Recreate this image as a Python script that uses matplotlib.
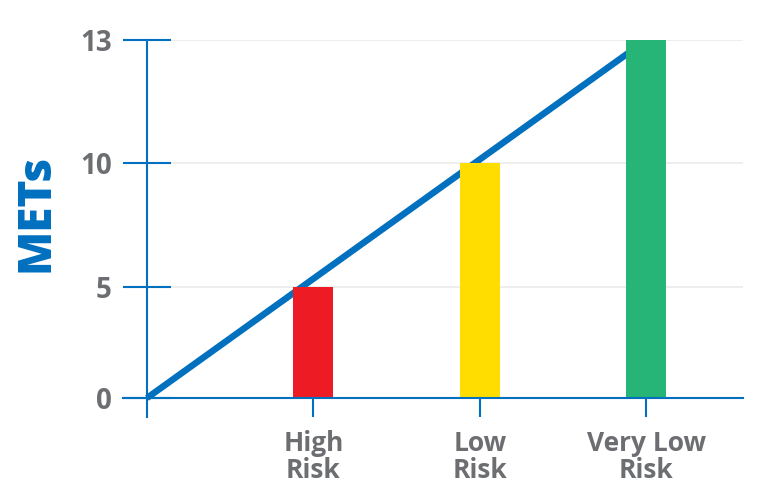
import numpy as np
import matplotlib
matplotlib.use("Agg")
import matplotlib.pyplot as plt
from matplotlib.scale import FuncScale

# data
categories = ["High\nRisk", "Low\nRisk", "Very Low\nRisk"]
mets = [5, 10, 13]
bar_colors = ["#ED1C24", "#FFDD00", "#26B576"]
yticks = [0, 5, 10, 13]

BLUE = "#0070BF"
GRAY = "#6D6E71"

# the y axis in the original is not linear: ticks sit at uneven spacing
SCALE_V = [-1, 0, 5, 10, 13]
SCALE_P = [-22.2, 0, 111, 235, 358]


def fwd(v):
    return np.interp(v, SCALE_V, SCALE_P)


def inv(p):
    return np.interp(p, SCALE_P, SCALE_V)


fig = plt.figure(figsize=(7.68, 4.93), dpi=100)
ax = fig.add_axes([123 / 768, (493 - 417) / 493, 620 / 768, 377 / 493])
ax.set_yscale(FuncScale(ax, (fwd, inv)))

x = np.arange(1, len(categories) + 1)

# trend line from origin to top of last bar, under the bars
ax.plot([0, x[-1]], [0, mets[-1]], color=BLUE, lw=4.7, solid_capstyle="butt",
        zorder=2)
ax.bar(x, mets, width=0.24, color=bar_colors, zorder=3)

ax.set_xlim(-0.144, 3.58)
ax.set_ylim(-0.856, 13)

for s in ["top", "right"]:
    ax.spines[s].set_visible(False)
ax.spines["left"].set_position(("data", 0))
ax.spines["bottom"].set_position(("data", 0))
for s in ["left", "bottom"]:
    ax.spines[s].set_color(BLUE)
    ax.spines[s].set_linewidth(1.5)
    ax.spines[s].set_zorder(4)

ax.set_yticks(yticks)
ax.set_yticklabels([str(t) for t in yticks])
ax.tick_params(axis="y", direction="inout", length=34.5, width=1.5,
               color=BLUE, pad=8)
ax.set_xticks(x)
ax.set_xticklabels(categories)
ax.tick_params(axis="x", direction="out", length=13.7, width=1.5,
               color=BLUE, pad=9)

for lab in ax.get_yticklabels():
    lab.set_fontfamily("Open Sans")
    lab.set_fontweight("bold")
    lab.set_fontsize(20)
    lab.set_color(GRAY)
for lab in ax.get_xticklabels():
    lab.set_fontfamily("Open Sans")
    lab.set_fontweight("bold")
    lab.set_fontsize(19)
    lab.set_color(GRAY)
    lab.set_linespacing(1.0)

ax.yaxis.grid(True, color="#EBEBEB", lw=1.2, zorder=0)
ax.set_axisbelow(True)

fig.text(37 / 768, 1 - 213 / 493, "METs", rotation=90, ha="center",
         va="center", color=BLUE, fontsize=33, fontweight="heavy",
         fontfamily="Open Sans")

fig.savefig("out.png", dpi=100)
